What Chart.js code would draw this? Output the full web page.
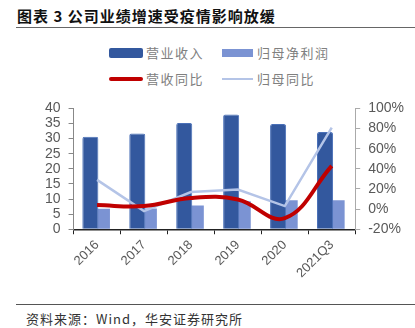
<!DOCTYPE html>
<html>
<head>
<meta charset="utf-8">
<script src="https://cdn.jsdelivr.net/npm/chart.js@4"></script>
<style>
  body { margin: 0; width: 415px; height: 328px; background: #fff; position: relative; overflow: hidden;
         font-family: "Noto Sans CJK SC", "Liberation Sans", sans-serif; }
  #title { position: absolute; left: 17px; top: 5px; font-size: 15px; font-weight: bold; color: #111; letter-spacing: 1px; white-space: nowrap; }
  #topLine { position: absolute; left: 16px; right: 0; top: 27px; border-top: 1.5px solid #666; }
  #bottomLine { position: absolute; left: 16px; right: 0; top: 304px; border-top: 1.5px solid #555; }
  #source { position: absolute; left: 26px; top: 309px; font-size: 13px; color: #333; letter-spacing: 1px; white-space: nowrap; }
  .leg { position: absolute; font-size: 13px; color: #808080; letter-spacing: 1.5px; white-space: nowrap; line-height: 16px; }
  .sw { position: absolute; }
  #wrap { position: absolute; left: 0; top: 92px; width: 415px; height: 192px; }
</style>
</head>
<body>
<div id="title">图表 3 公司业绩增速受疫情影响放缓</div>
<div id="topLine"></div>

<div class="sw" style="left:109px;top:48px;width:34px;height:10px;background:#33589e;border-radius:2px;"></div>
<div class="leg" style="left:146px;top:45px;">营业收入</div>
<div class="sw" style="left:222px;top:49px;width:31px;height:8px;background:#7b93d3;"></div>
<div class="leg" style="left:257px;top:45px;">归母净利润</div>

<div class="sw" style="left:109px;top:77px;width:34px;height:4px;background:#c00000;border-radius:2px;"></div>
<div class="leg" style="left:146px;top:71px;">营收同比</div>
<div class="sw" style="left:222px;top:78px;width:31px;height:2px;background:#b4c4e7;"></div>
<div class="leg" style="left:257px;top:71px;">归母同比</div>

<div id="wrap"><canvas id="c" width="415" height="192"></canvas></div>

<div id="bottomLine"></div>
<div id="source">资料来源：Wind，华安证券研究所</div>

<script>
const categories = ['2016', '2017', '2018', '2019', '2020', '2021Q3'];
const revenue = [30.6, 31.7, 35.2, 38.0, 34.8, 32.2];
const netProfit = [6.8, 6.9, 7.9, 9.3, 9.6, 9.6];
const revenueYoY = [4, 3, 11, 9.5, -9, 43];
const profitYoY = [29, -2, 17, 19.5, 3, 81];

const tickFont = { family: 'Liberation Sans', size: 14 };

const ctx = document.getElementById('c').getContext('2d');
new Chart(ctx, {
    data: {
        labels: categories,
        datasets: [
            {
                type: 'line',
                label: '营收同比',
                data: revenueYoY,
                yAxisID: 'y2',
                borderColor: '#c00000',
                borderWidth: 4,
                tension: 0.4,
                pointRadius: 0,
                order: 0
            },
            {
                type: 'line',
                label: '归母同比',
                data: profitYoY,
                yAxisID: 'y2',
                borderColor: '#b4c4e7',
                borderWidth: 2.5,
                tension: 0,
                pointRadius: 0,
                order: 1
            },
            {
                type: 'bar',
                label: '营业收入',
                data: revenue,
                yAxisID: 'y',
                backgroundColor: '#33589e',
                borderColor: '#4a70b8',
                borderWidth: 1,
                borderRadius: 2,
                borderSkipped: 'bottom',
                barPercentage: 1.2,
                categoryPercentage: 0.57,
                order: 2
            },
            {
                type: 'bar',
                label: '归母净利润',
                data: netProfit,
                yAxisID: 'y',
                backgroundColor: '#7b93d3',
                barPercentage: 0.93,
                categoryPercentage: 0.57,
                order: 3
            }
        ]
    },
    options: {
        responsive: false,
        maintainAspectRatio: false,
        animation: false,
        layout: { padding: { top: 6, left: 37, right: 3, bottom: 0 } },
        plugins: {
            legend: { display: false },
            title: { display: false },
            tooltip: { enabled: false }
        },
        scales: {
            x: {
                offset: true,
                grid: { display: true, drawOnChartArea: false, drawTicks: true, tickLength: 5, color: '#222', offset: true },
                border: { display: true, color: '#222', width: 1.5 },
                ticks: { font: { family: 'Liberation Sans', size: 13 }, color: '#595959', minRotation: 45, maxRotation: 45, autoSkip: false }
            },
            y: {
                position: 'left',
                min: 0,
                max: 40,
                ticks: { stepSize: 5, font: tickFont, color: '#595959', padding: 8, autoSkip: false },
                grid: { drawOnChartArea: false, drawTicks: true, tickLength: 5, color: '#888' },
                border: { display: true, color: '#888' }
            },
            y2: {
                position: 'right',
                min: -20,
                max: 100,
                ticks: { stepSize: 20, font: tickFont, color: '#595959', padding: 8, autoSkip: false,
                         callback: v => v + '%' },
                grid: { drawOnChartArea: false, drawTicks: true, tickLength: 5, color: '#aaa' },
                border: { display: true, color: '#aaa' }
            }
        }
    }
});
</script>
</body>
</html>
